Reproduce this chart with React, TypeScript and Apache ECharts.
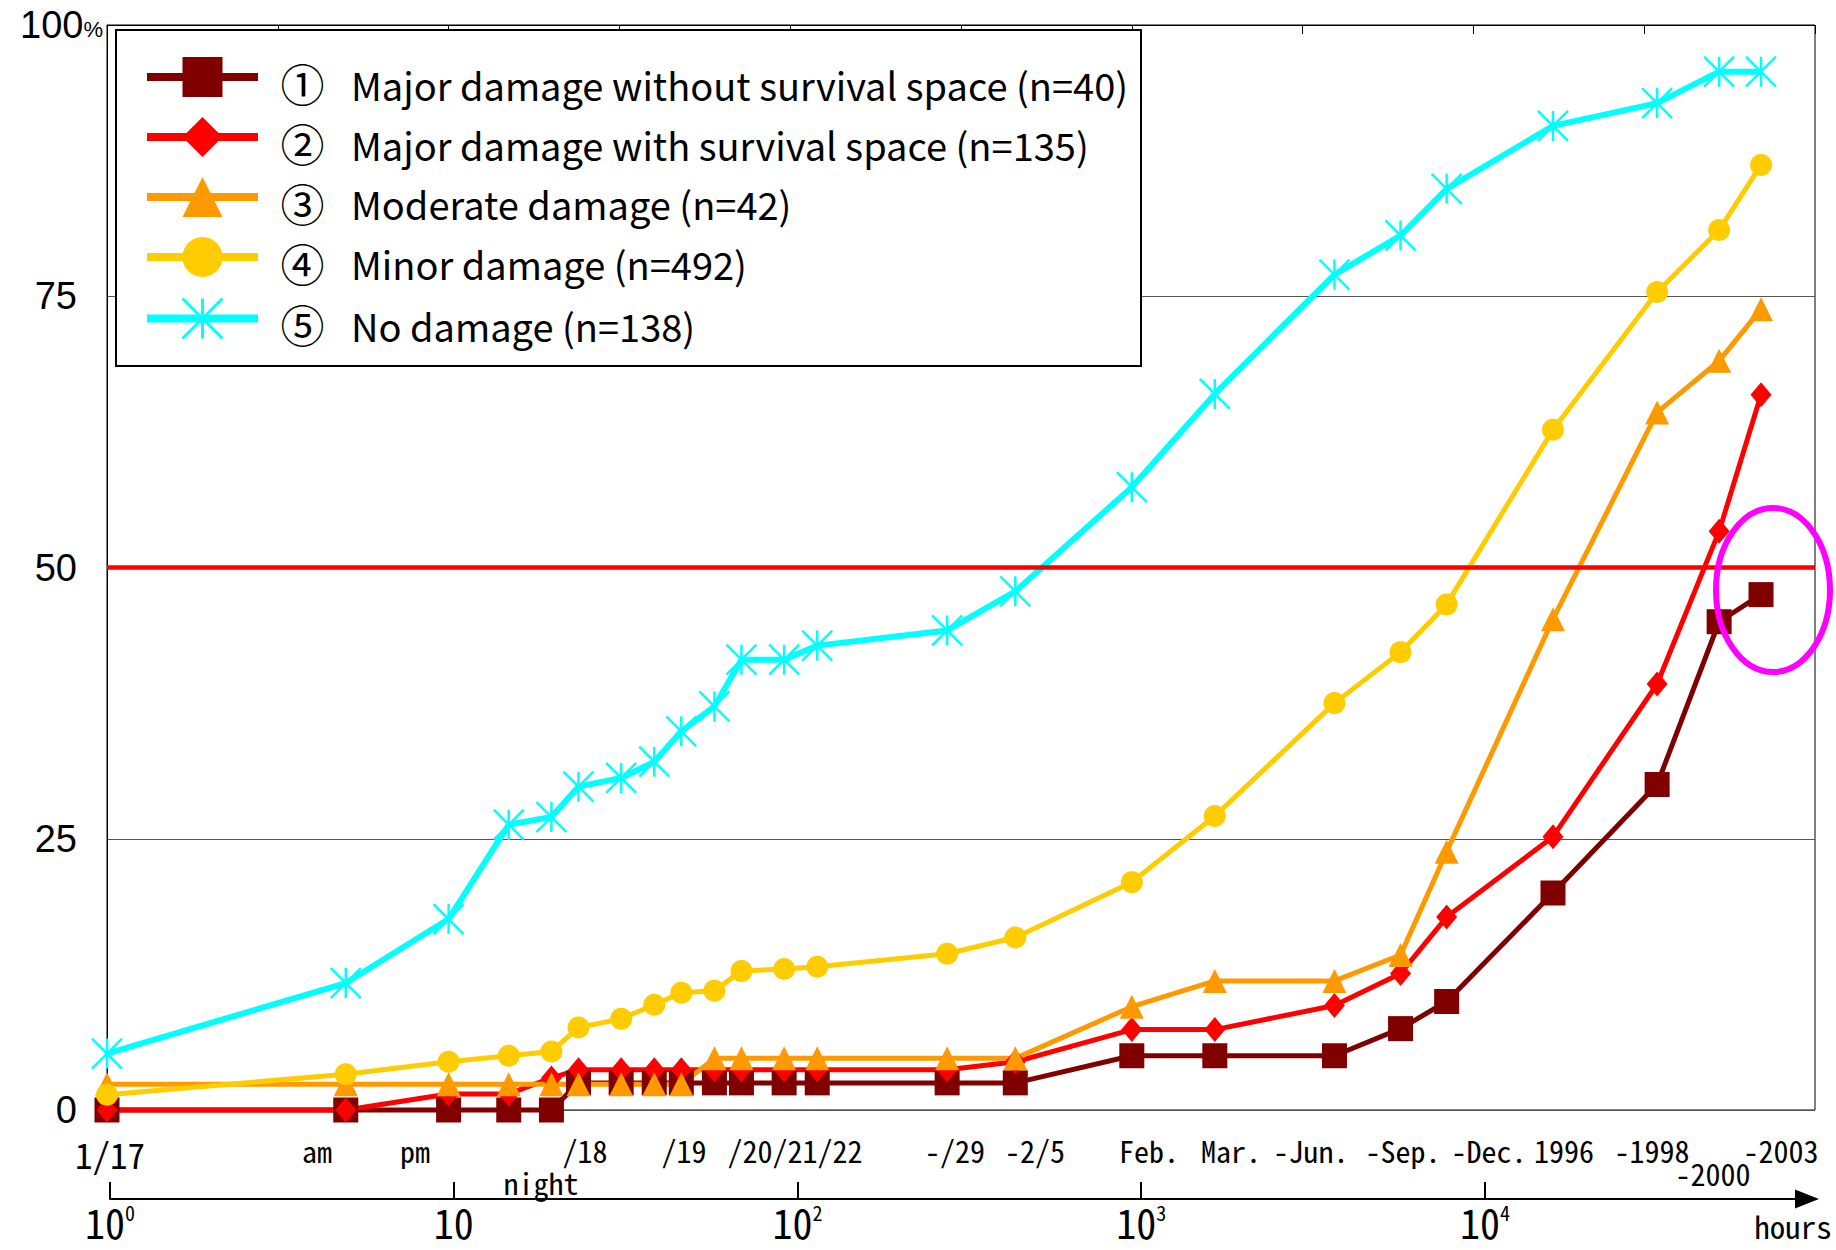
import React, { useEffect, useRef } from 'react';
import * as echarts from 'echarts';

// Elapsed time since the earthquake, in hours (1/17 = 10^0 h)
const hours = [1, 5, 10, 15, 20, 24, 32, 40, 48, 60, 72, 96, 120, 288, 456, 1000, 1750, 3920, 6120, 8350, 17100, 34500, 52400, 69500];

const seriesNames = [
  '① Major damage without survival space (n=40)',
  '② Major damage with survival space (n=135)',
  '③ Moderate damage (n=42)',
  '④ Minor damage (n=492)',
  '⑤ No damage (n=138)',
];

// cumulative percentage
const majorWithoutSpace = [0, 0, 0, 0, 0, 2.5, 2.5, 2.5, 2.5, 2.5, 2.5, 2.5, 2.5, 2.5, 2.5, 5, 5, 5, 7.5, 10, 20, 30, 45, 47.5];
const majorWithSpace = [0, 0, 1.48, 1.48, 2.96, 3.7, 3.7, 3.7, 3.7, 3.7, 3.7, 3.7, 3.7, 3.7, 4.44, 7.41, 7.41, 9.63, 12.59, 17.78, 25.19, 39.26, 53.33, 65.93];
const moderateDamage = [2.38, 2.38, 2.38, 2.38, 2.38, 2.38, 2.38, 2.38, 2.38, 4.76, 4.76, 4.76, 4.76, 4.76, 4.76, 9.52, 11.9, 11.9, 14.29, 23.81, 45.24, 64.29, 69.05, 73.81];
const minorDamage = [1.4, 3.3, 4.45, 5.0, 5.4, 7.6, 8.4, 9.7, 10.8, 11.0, 12.8, 13.0, 13.2, 14.4, 15.9, 21.0, 27.1, 37.5, 42.2, 46.6, 62.7, 75.4, 81.1, 87.1];
const noDamage = [5.2, 11.7, 17.6, 26.3, 27.0, 29.8, 30.6, 32.1, 34.9, 37.2, 41.5, 41.5, 42.8, 44.2, 47.8, 57.4, 66.0, 77.0, 80.6, 84.9, 90.7, 92.8, 95.7, 95.7];

const threshold = 50;

const timeLabelTexts = ['1/17', 'am', 'pm', '/18', '/19', '/20/21/22', 'night', '-/29', '-2/5', 'Feb.', 'Mar.', '-Jun.', '-Sep.', '-Dec.', '1996', '-1998', '-2000', '-2003'];
const lowerAxisMaxHours = 86500;

const FONT_JP = '"Noto Sans CJK JP", "Noto Sans", sans-serif';
const FONT_MONO = '"Noto Sans Mono CJK JP", "DejaVu Sans Mono", monospace';
const FONT_ARIAL = '"Liberation Sans", Arial, sans-serif';

const seriesStyles: any[] = [
  { color: '#800000', symbol: 'rect', size: 25, width: 5, border: 0 },
  { color: '#FF0000', symbol: 'diamond', size: [21, 25], width: 5, border: 0 },
  { color: '#FF9900', symbol: 'triangle', size: 24, width: 5, border: 0 },
  { color: '#FFCC00', symbol: 'circle', size: 22, width: 5, border: 0 },
  { color: '#00FFFF', symbol: 'path://M0 0L30 30M30 0L0 30M15 0L15 30', size: 30, width: 6, border: 2.5 },
];

function buildOption(): any {
  const values = [majorWithoutSpace, majorWithSpace, moderateDamage, minorDamage, noDamage];
  const series: any[] = values.map((vals, i) => {
    const st = seriesStyles[i];
    return {
      name: seriesNames[i],
      type: 'line',
      xAxisIndex: 0,
      yAxisIndex: 0,
      data: hours.map((h, j) => [h, vals[j]]),
      symbol: st.symbol,
      symbolSize: st.size,
      showSymbol: true,
      clip: false,
      lineStyle: { color: st.color, width: st.width },
      itemStyle: { color: st.color, borderColor: st.color, borderWidth: st.border },
      emphasis: { disabled: true },
    };
  });
  series[4].markLine = {
    silent: true,
    symbol: ['none', 'none'],
    label: { show: false },
    lineStyle: { color: '#FF0000', width: 4.5, type: 'solid' },
    data: [{ yAxis: threshold }],
  };

  const labelPos: [number, number, number][] = [
    [110, 1153, 35], [317, 1150, 30], [415, 1150, 30], [585, 1150, 30], [684, 1150, 30],
    [795, 1150, 30], [541, 1182, 30], [955, 1150, 30], [1035, 1150, 30], [1149, 1150, 30],
    [1231, 1150, 30], [1311, 1150, 30], [1403, 1150, 30], [1489, 1150, 30], [1564, 1150, 30],
    [1652, 1150, 30], [1713, 1173, 30], [1781, 1150, 30],
  ];
  const textEls = timeLabelTexts.map((t, i) => ({
    type: 'text',
    x: labelPos[i][0],
    y: labelPos[i][1],
    z: 10,
    silent: true,
    style: {
      text: t,
      fill: '#000',
      fontFamily: FONT_MONO,
      fontSize: labelPos[i][2],
      align: 'center',
      verticalAlign: 'middle',
      textAlign: 'center',
      textVerticalAlign: 'middle',
    },
  }));

  return {
    animation: false,
    backgroundColor: '#ffffff',
    grid: [
      { left: 107, top: 25, width: 1708, height: 1085, show: true, borderColor: '#000', borderWidth: 1, backgroundColor: 'transparent' },
      { left: 110, top: 1182, width: 1697, height: 17, show: false },
    ],
    xAxis: [
      { type: 'log', gridIndex: 0, logBase: 10, min: 1, max: 100000, show: false },
      {
        type: 'value', gridIndex: 0, min: 0, max: 5, interval: 0.5,
        axisLine: { show: true, lineStyle: { color: '#000', width: 1 } },
        axisTick: { show: true, inside: true, length: 9, lineStyle: { color: '#000', width: 1 } },
        axisLabel: { show: false },
        splitLine: { show: false },
      },
      {
        type: 'log', gridIndex: 1, logBase: 10, min: 1, max: lowerAxisMaxHours,
        axisLine: { show: true, lineStyle: { color: '#000', width: 2 }, symbol: ['none', 'triangle'], symbolSize: [19, 24] },
        axisTick: { show: false },
        splitLine: { show: true, showMinLine: true, showMaxLine: false, lineStyle: { color: '#000', width: 2 } },
        axisLabel: {
          margin: 3,
          showMinLabel: true,
          showMaxLabel: false,
          formatter: (v: number) => {
            const e = Math.log10(v);
            const r = Math.round(e);
            if (Math.abs(e - r) > 1e-6) return '';
            return r === 1 ? '{b|10}' : `{b|10}{s|${r}}`;
          },
          rich: {
            b: { fontFamily: FONT_MONO, fontSize: 40, lineHeight: 40, color: '#000' },
            s: { fontFamily: FONT_MONO, fontSize: 20, lineHeight: 20, color: '#000', verticalAlign: 'top' },
          },
        },
      },
    ],
    yAxis: [
      {
        type: 'value', gridIndex: 0, min: 0, max: 100, interval: 25,
        axisLine: { show: true, lineStyle: { color: '#000', width: 1 } },
        axisTick: { show: false },
        splitLine: { show: true, lineStyle: { color: '#555', width: 1 } },
        axisLabel: {
          margin: 4,
          formatter: (v: number) => (v === 100 ? '{a|100}{p|%}' : `{n|${v}}`),
          rich: {
            n: { fontFamily: FONT_ARIAL, fontSize: 38, color: '#000', padding: [0, 26, 0, 0] },
            a: { fontFamily: FONT_ARIAL, fontSize: 38, color: '#000' },
            p: { fontFamily: FONT_ARIAL, fontSize: 22, color: '#000', verticalAlign: 'bottom', padding: [0, 0, 4, 0] },
          },
        },
      },
      { type: 'value', gridIndex: 1, show: false, min: 0, max: 1 },
    ],
    legend: {
      show: true,
      orient: 'vertical',
      left: 143,
      top: 57,
      padding: 0,
      itemWidth: 111,
      itemHeight: 50,
      itemGap: 12,
      selectedMode: false,
      data: seriesNames.map((n, i) => ({
        name: n,
        lineStyle: { color: seriesStyles[i].color, width: 8 },
        itemStyle: i === 4
          ? { color: 'rgba(0,0,0,0)', borderColor: '#00FFFF', borderWidth: 3 }
          : { color: seriesStyles[i].color, borderWidth: 0 },
      })),
      formatter: (name: string) => {
        const k = name.indexOf(' ');
        return `{c|${name.slice(0, k)}}{t|${name.slice(k + 1)}}`;
      },
      textStyle: {
        color: '#000',
        fontFamily: FONT_JP,
        fontSize: 38,
        rich: {
          c: { fontFamily: FONT_JP, fontSize: 44, color: '#000', width: 79, align: 'center', padding: [12, 0, 0, 0] },
          t: { fontFamily: FONT_JP, fontSize: 38, color: '#000', padding: [14, 0, 0, 9] },
        },
      },
    },
    graphic: {
      elements: [
        { type: 'rect', z: 3, silent: true, shape: { x: 116, y: 30, width: 1025, height: 336 }, style: { fill: '#fff', stroke: '#000', lineWidth: 2 } },
        { type: 'ellipse', z: 6, silent: true, shape: { cx: 1773, cy: 590, rx: 57, ry: 82 }, style: { fill: 'none', stroke: '#FF00FF', lineWidth: 6 } },
        ...textEls,
        {
          type: 'text', x: 1793, y: 1225, z: 10, silent: true,
          style: { text: 'hours', fill: '#000', fontFamily: FONT_MONO, fontSize: 31, align: 'center', verticalAlign: 'middle', textAlign: 'center', textVerticalAlign: 'middle' },
        },
      ],
    },
    series,
  };
}

export default function App() {
  const ref = useRef<HTMLDivElement>(null);
  useEffect(() => {
    if (!ref.current) return;
    const chart = echarts.init(ref.current, null, { renderer: 'svg' });
    chart.setOption(buildOption());
    return () => chart.dispose();
  }, []);
  return (
    <div
      ref={ref}
      style={{ position: 'fixed', left: 0, top: 0, width: 1836, height: 1250, background: '#fff' }}
    />
  );
}
